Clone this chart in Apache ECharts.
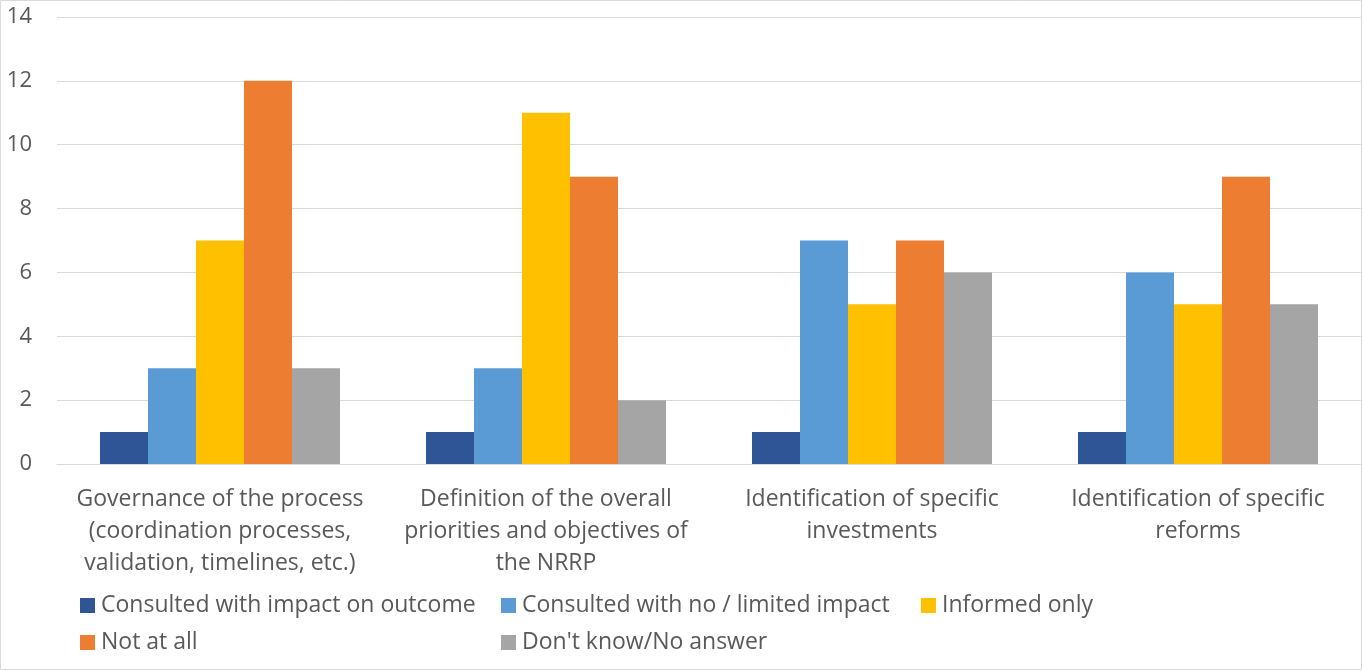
<!DOCTYPE html>
<html>
<head>
<meta charset="utf-8">
<script src="https://cdn.jsdelivr.net/npm/echarts@6/dist/echarts.min.js"></script>
<style>
html,body{margin:0;padding:0;background:#fff;}
#chart{position:absolute;left:0;top:0;width:1363px;height:671px;}
</style>
</head>
<body>
<div id="chart"></div>
<script>
const categories = [
  "Governance of the process\n(coordination processes,\nvalidation, timelines, etc.)",
  "Definition of the overall\npriorities and objectives of\nthe NRRP",
  "Identification of specific\ninvestments",
  "Identification of specific\nreforms"
];
const seriesNames = [
  "Consulted with impact on outcome",
  "Consulted with no / limited impact",
  "Informed only",
  "Not at all",
  "Don't know/No answer"
];
const consultedImpact = [1, 1, 1, 1];
const consultedNoImpact = [3, 3, 7, 6];
const informedOnly = [7, 11, 5, 5];
const notAtAll = [12, 9, 7, 9];
const dontKnow = [3, 2, 6, 5];
const colors = ["#2F5597", "#5B9BD5", "#FFC000", "#ED7D31", "#A5A5A5"];
const yTicks = [0, 2, 4, 6, 8, 10, 12, 14];

const values = [consultedImpact, consultedNoImpact, informedOnly, notAtAll, dontKnow];
const FONT = "Open Sans";
const FS = 23;
const textColor = "#595959";

const chart = echarts.init(document.getElementById('chart'), null, {renderer: 'canvas'});
const legendCommon = {
  orient: 'vertical',
  top: 594,
  icon: 'rect',
  itemWidth: 15,
  itemHeight: 15,
  itemGap: 14,
  textStyle: {fontFamily: FONT, fontSize: FS, color: textColor, lineHeight: 20, padding: [0,0,0,1]},
  padding: 0
};
const option = {
  animation: false,
  textStyle: {fontFamily: FONT},
  color: colors,
  graphic: [{
    type: 'rect',
    shape: {x: 0.5, y: 0.5, width: 1361, height: 669},
    style: {fill: 'none', stroke: '#d9d9d9', lineWidth: 1},
    silent: true
  }],
  legend: [
    Object.assign({left: 80, data: [seriesNames[0], seriesNames[3]]}, legendCommon),
    Object.assign({left: 501, data: [seriesNames[1], seriesNames[4]]}, legendCommon),
    Object.assign({left: 921, data: [seriesNames[2]]}, legendCommon)
  ],
  grid: {left: 57, right: 2, top: 17, bottom: 207, containLabel: false},
  xAxis: {
    type: 'category',
    data: categories,
    axisLine: {show: true, lineStyle: {color: '#d9d9d9', width: 1}},
    axisTick: {show: false},
    axisLabel: {interval: 0, fontFamily: FONT, fontSize: FS, color: textColor, lineHeight: 32, margin: 19, align: 'center'}
  },
  yAxis: {
    type: 'value',
    min: yTicks[0],
    max: yTicks[yTicks.length - 1],
    interval: 2,
    axisLine: {show: false},
    axisTick: {show: false},
    splitLine: {lineStyle: {color: '#d9d9d9', width: 1}},
    axisLabel: {fontFamily: FONT, fontSize: 22, color: textColor, margin: 25}
  },
  series: seriesNames.map((name, i) => ({
    name: name,
    type: 'bar',
    data: values[i],
    barWidth: 48,
    barGap: '0%',
    itemStyle: {color: colors[i]}
  }))
};
chart.setOption(option);
</script>
</body>
</html>
